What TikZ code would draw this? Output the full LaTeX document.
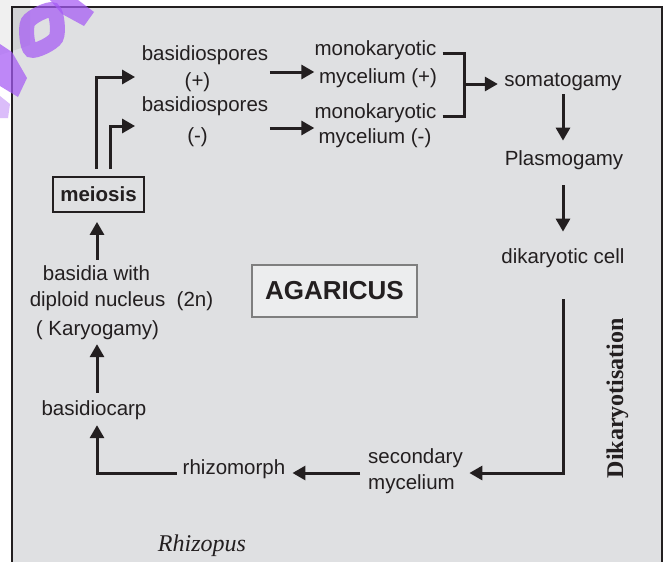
\documentclass[tikz,border=0pt]{standalone}
\usepackage{fontspec}
\setmainfont{Liberation Serif}
\setsansfont{Liberation Sans}
\usetikzlibrary{arrows.meta}
\definecolor{ink}{HTML}{231F20}
\definecolor{bg}{HTML}{DFE0E2}
\definecolor{boxfill}{HTML}{ECEDEE}
\definecolor{boxline}{HTML}{7F7F7F}
\definecolor{wm}{RGB}{165,90,245}
\tikzset{
  txt/.style={inner sep=0pt, text=ink, font=\sffamily\fontsize{20.5}{24}\selectfont, anchor=mid},
  arr/.style={draw=ink, line width=3pt, -{Triangle[length=13pt,width=14pt]}},
  ln/.style={draw=ink, line width=3pt},
}
\begin{document}
\begin{tikzpicture}[x=1pt,y=-1pt]
\useasboundingbox (0,0) rectangle (664,562);
\begin{scope}
  \clip (0,0) rectangle (664,562);
  \fill[white] (0,0) rectangle (664,562);
  \draw[draw=ink, fill=bg, line width=2pt] (12,7) rectangle (662,600);
\end{scope}

% text nodes
\node[txt] (bp1) at (205,58) {basidiospores};
\node[txt] (bp2) at (197.5,85) {(+)};
\node[txt] (bm1) at (205,109) {basidiospores};
\node[txt] (bm2) at (197.5,140) {(-)};
\node[txt] (mp1) at (375.5,53) {monokaryotic};
\node[txt] (mp2) at (378,81) {mycelium (+)};
\node[txt] (mm1) at (375.5,116) {monokaryotic};
\node[txt] (mm2) at (375,141) {mycelium (-)};
\node[txt] (soma) at (563,84) {somatogamy};
\node[txt] (plas) at (564,163) {Plasmogamy};
\node[txt] (dik) at (563,261) {dikaryotic cell};
\node[txt, anchor=mid west] (sec1) at (368,461) {secondary};
\node[txt, anchor=mid west] (sec2) at (368,487) {mycelium};
\node[txt] (rhizo) at (234,472) {rhizomorph};
\node[txt] (carp) at (94,413) {basidiocarp};
\node[txt] (bas1) at (96.5,278) {basidia with};
\node[txt] (bas2) at (121.5,304) {diploid nucleus\ \ (2n)};
\node[txt] (bas3) at (97.5,333) {( Karyogamy)};

\node[draw=ink, line width=1.8pt, inner sep=0pt, minimum width=91pt, minimum height=35pt,
      font=\sffamily\bfseries\fontsize{20.5}{24}\selectfont, text=ink] (mei) at (98.5,194.5) {meiosis};
\node[draw=boxline, fill=boxfill, line width=2pt, inner sep=0pt, minimum width=165pt, minimum height=52pt,
      font=\sffamily\bfseries\fontsize{26}{30}\selectfont, text=ink] (aga) at (334.5,291) {AGARICUS};
\node[rotate=90, anchor=base, inner sep=0pt, text=ink,
      font=\rmfamily\bfseries\fontsize{24}{28}\selectfont] (dkt) at (623,398) {Dikaryotisation};
\node[anchor=base, inner sep=0pt, text=ink,
      font=\rmfamily\itshape\fontsize{24}{28}\selectfont] (rhp) at (202,551) {Rhizopus};

% connectors
\draw[arr, shorten <=7pt, shorten >=6.5pt] (mei.north -| 96,0) |- (bp1.west |- 0,77);
\draw[arr, shorten <=7pt, shorten >=6.5pt] (mei.north -| 110,0) |- (bm1.west |- 0,126);
\draw[arr, shorten <=1.5pt] (bp1.east |- 0,72) -- (mp1.west |- 0,72);
\draw[arr, shorten <=1.5pt] (bm1.east |- 0,128) -- (mm1.west |- 0,128);
\coordinate (br) at (464,84);
\draw[ln, shorten <=6pt] (mp1.mid east) -| (br);
\draw[ln, shorten <=6pt] (mm1.mid east) -| (br);
\draw[arr, shorten >=6.3pt] (br) -- (soma.west |- br);
\draw[arr, shorten <=3.4pt, shorten >=9.6pt] (soma.south -| 563,0) -- (plas.north -| 563,0);
\draw[arr, shorten <=15.4pt, shorten >=16.6pt] (plas.south -| 563,0) -- (dik.north -| 563,0);
\draw[arr, shorten <=31.4pt, shorten >=6.4pt] (dik.south) |- (sec1.east |- 0,473);
\draw[arr, shorten <=8pt, shorten >=7pt] (sec1.west |- 0,473) -- (rhizo.east |- 0,473);
\draw[arr, shorten <=5.7pt, shorten >=5.4pt] (rhizo.west |- 0,473) -| (carp.south -| 97,0);
\draw[arr, shorten <=7.6pt, shorten >=4.4pt] (carp.north -| 97,0) -- (bas3.south -| 97,0);
\draw[arr, shorten <=5.6pt, shorten >=9pt] (bas1.north -| 97,0) -- (mei.south -| 97,0);

% watermark
\begin{scope}
  \clip (0,0) rectangle (664,562);
  \fill[black, opacity=0.06] (0,0) -- (30,0) -- (30,45) -- (0,55) -- cycle;
  \begin{scope}[opacity=0.72]
    \draw[wm, line width=15pt] plot[smooth cycle] coordinates {(53,10) (56,38) (31,50) (28,22)};
    \fill[wm] (50,0) -- (78,0) -- (94,12) -- (84,26) -- (62,14) -- cycle;
    \fill[wm] (0,44) -- (12,52) -- (27,78) -- (18,97) -- (0,86) -- cycle;
    \fill[wm!55] (0,96) -- (10,104) -- (8,118) -- (0,118) -- cycle;
  \end{scope}
\end{scope}
\end{tikzpicture}
\end{document}
